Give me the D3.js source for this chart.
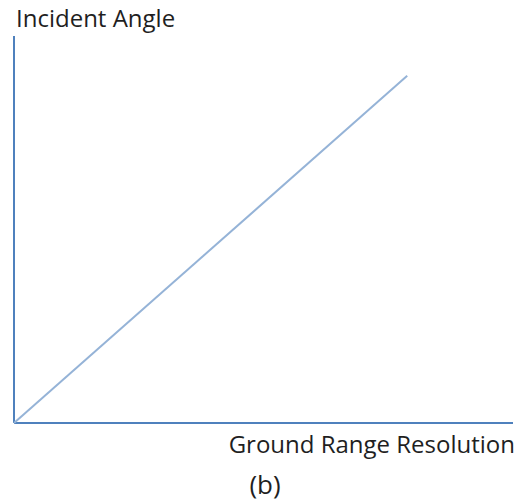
<!DOCTYPE html>
<html>
<head>
<meta charset="utf-8">
<script src="https://cdn.jsdelivr.net/npm/d3@7"></script>
<style>
  html, body { margin: 0; padding: 0; background: #fff; }
  text { font-family: "Open Sans", "Noto Sans", sans-serif; fill: #1f1f1f; }
</style>
</head>
<body>
<div id="chart-container"></div>
<script>
// data: a single straight line from the origin
const xValues = [0, 78.8];
const yValues = [0, 89.7];
const axisTitles = { x: "Ground Range Resolution", y: "Incident Angle" };
const caption = "(b)";

const W = 522, H = 503;

const x = d3.scaleLinear().domain([0, 100]).range([14, 513]);
const y = d3.scaleLinear().domain([0, 100]).range([423, 36]);

const svg = d3.select("#chart-container")
  .append("svg")
    .attr("width", W)
    .attr("height", H);

const points = xValues.map((v, i) => ({ x: v, y: yValues[i] }));

// axes drawn as plain lines, no ticks
svg.append("line")
  .attr("x1", x(0)).attr("x2", x(0))
  .attr("y1", y(0)).attr("y2", y(100))
  .attr("stroke", "#4f81bd")
  .attr("stroke-width", 2);

svg.append("line")
  .attr("x1", x(0)).attr("x2", x(100))
  .attr("y1", y(0)).attr("y2", y(0))
  .attr("stroke", "#4f81bd")
  .attr("stroke-width", 2);

svg.append("path")
  .datum(points)
  .attr("fill", "none")
  .attr("stroke", "#95b3d7")
  .attr("stroke-width", 2)
  .attr("d", d3.line().x(d => x(d.x)).y(d => y(d.y)));

svg.append("text")
  .attr("x", 16)
  .attr("y", 27)
  .style("font-size", "24px")
  .text(axisTitles.y);

svg.append("text")
  .attr("x", 515)
  .attr("y", 453)
  .attr("text-anchor", "end")
  .style("font-size", "24px")
  .text(axisTitles.x);

svg.append("text")
  .attr("x", 265)
  .attr("y", 494)
  .attr("text-anchor", "middle")
  .style("font-size", "26px")
  .text(caption);
</script>
</body>
</html>
